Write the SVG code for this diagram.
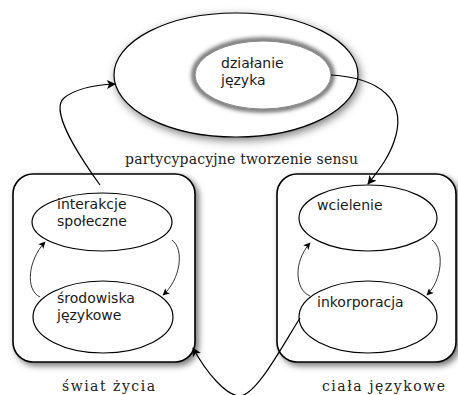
<svg xmlns="http://www.w3.org/2000/svg" width="458" height="395" viewBox="0 0 458 395">
  <style>
    .sans { font-family: "DejaVu Sans", Verdana, sans-serif; font-size: 14px; fill: #1a1a1a; }
    .serif { font-family: "DejaVu Serif", "Liberation Serif", serif; font-size: 14px; fill: #222; }
    .node { fill: #fff; stroke: #000; stroke-width: 1.2; }
    .box { fill: #fff; stroke: #000; stroke-width: 1.6; }
    .conn { fill: none; stroke: #000; stroke-width: 1.2; }
    .thin { fill: none; stroke: #000; stroke-width: 0.8; }
  </style>
  <defs>
    <filter id="shadow" x="-20%" y="-20%" width="140%" height="140%">
      <feDropShadow dx="3" dy="3" stdDeviation="3" flood-color="#000" flood-opacity="0.55"/>
    </filter>
    <filter id="glow" x="-20%" y="-20%" width="140%" height="140%">
      <feDropShadow dx="2" dy="3" stdDeviation="4" flood-color="#000" flood-opacity="0.5"/>
    </filter>
    <filter id="blur" x="-20%" y="-20%" width="140%" height="140%">
      <feGaussianBlur stdDeviation="2"/>
    </filter>
    <marker id="arrow" viewBox="0 0 10 10" refX="9" refY="5" markerWidth="11" markerHeight="9" markerUnits="userSpaceOnUse" orient="auto">
      <path d="M0,0 L10,5 L0,10 L2.5,5 Z" fill="#000"/>
    </marker>
    <marker id="arrowS" viewBox="0 0 10 10" refX="9" refY="5" markerWidth="8" markerHeight="7" markerUnits="userSpaceOnUse" orient="auto">
      <path d="M0,0 L10,5 L0,10 L2.5,5 Z" fill="#000"/>
    </marker>
  </defs>

  <g id="dzialanie-outer">
    <ellipse cx="236" cy="75" rx="122" ry="62" class="node" filter="url(#glow)"/>
  </g>
  <g id="dzialanie-jezyka">
    <ellipse cx="263" cy="75" rx="69" ry="35" fill="none" stroke="#555" stroke-width="4.5" filter="url(#blur)"/>
    <ellipse cx="263" cy="75" rx="68" ry="34" fill="#fff" stroke="#888" stroke-width="1"/>
    <text class="sans" x="221" y="68">działanie</text>
    <text class="sans" x="221" y="85">języka</text>
  </g>
  <text class="serif" x="125" y="164" textLength="233" lengthAdjust="spacing">partycypacyjne tworzenie sensu</text>

  <g id="swiat-zycia">
    <rect x="13" y="174" width="182" height="188" rx="20" class="box" filter="url(#shadow)"/>
    <text class="serif" x="62" y="391" textLength="93" lengthAdjust="spacing">świat życia</text>
  </g>
  <g id="interakcje-spoleczne">
    <ellipse cx="102" cy="222" rx="70" ry="29" class="node"/>
    <text class="sans" x="57" y="209">interakcje</text>
    <text class="sans" x="57" y="226">społeczne</text>
  </g>
  <g id="srodowiska-jezykowe">
    <ellipse cx="103" cy="317" rx="70" ry="36" class="node"/>
    <text class="sans" x="57" y="303">środowiska</text>
    <text class="sans" x="57" y="320">językowe</text>
  </g>

  <g id="ciala-jezykowe">
    <rect x="277" y="174" width="179" height="188" rx="20" class="box" filter="url(#shadow)"/>
    <text class="serif" x="322" y="391" textLength="123" lengthAdjust="spacing">ciała językowe</text>
  </g>
  <g id="wcielenie">
    <ellipse cx="368" cy="218" rx="69" ry="33" class="node"/>
    <text class="sans" x="317" y="210">wcielenie</text>
  </g>
  <g id="inkorporacja">
    <ellipse cx="368" cy="317" rx="69" ry="36" class="node"/>
    <text class="sans" x="317" y="307">inkorporacja</text>
  </g>

  <g id="connectors">
    <path class="conn" d="M100,185 C 75,150 50,110 64,98 C 76,88 95,85 115,84" marker-end="url(#arrow)"/>
    <path class="conn" d="M331,75 C 380,78 405,100 396,135 C 391,155 379,170 368,184" marker-end="url(#arrow)"/>
    <path class="conn" d="M300,318 C 280,350 256,395 240,396 C 226,396 206,372 193,348" marker-end="url(#arrow)"/>
    <path class="thin" d="M172,240 C 185,250 180,280 163,295" marker-end="url(#arrowS)"/>
    <path class="thin" d="M40,297 C 25,290 28,260 45,242" marker-end="url(#arrowS)"/>
    <path class="thin" d="M432,240 C 445,250 442,280 427,295" marker-end="url(#arrowS)"/>
    <path class="thin" d="M310,296 C 295,290 293,262 310,243" marker-end="url(#arrowS)"/>
  </g>
</svg>
